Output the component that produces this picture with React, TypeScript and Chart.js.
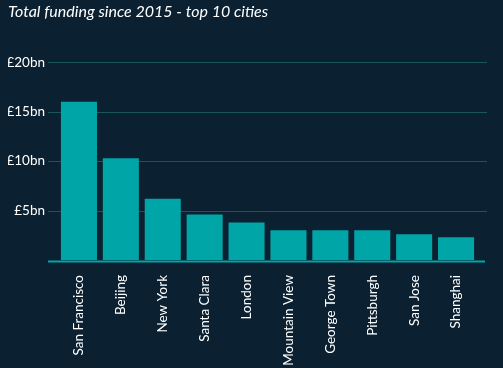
import React, { useEffect, useRef } from "react";
import { Chart, registerables } from "chart.js";

Chart.register(...registerables);

const cities: string[] = [
  "San Francisco",
  "Beijing",
  "New York",
  "Santa Clara",
  "London",
  "Mountain View",
  "George Town",
  "Pittsburgh",
  "San Jose",
  "Shanghai",
];
const funding: number[] = [16.0, 10.3, 6.2, 4.6, 3.8, 3.0, 3.0, 3.0, 2.6, 2.3];
const yTickValues: number[] = [0, 5, 10, 15, 20];
const yTickLabels: string[] = ["", "£5bn", "£10bn", "£15bn", "£20bn"];
const titleText = "Total funding since 2015 - top 10 cities";

const BG = "#0b2132";
const BAR = "#00a5a8";
const GRID = "#17575b";
const FONT = "Lato, 'DejaVu Sans', sans-serif";

const gridPlugin = {
  id: "extendedGrid",
  beforeDatasetsDraw(chart: any) {
    const { ctx, chartArea, scales } = chart;
    const y = scales.y;
    ctx.save();
    ctx.strokeStyle = GRID;
    ctx.lineWidth = 1;
    yTickValues.forEach((v) => {
      if (v === 0) return;
      const py = Math.round(y.getPixelForValue(v)) + 0.5;
      ctx.beginPath();
      ctx.moveTo(chartArea.left - 10, py);
      ctx.lineTo(chartArea.right + 10, py);
      ctx.stroke();
    });
    ctx.restore();
  },
  afterDatasetsDraw(chart: any) {
    const { ctx, chartArea, scales } = chart;
    const y = scales.y;
    const py = y.getPixelForValue(0) + 1.5;
    ctx.save();
    ctx.strokeStyle = BAR;
    ctx.lineWidth = 2;
    ctx.beginPath();
    ctx.moveTo(chartArea.left - 10, py);
    ctx.lineTo(chartArea.right + 8, py);
    ctx.stroke();
    ctx.restore();
  },
};

export default function App() {
  const ref = useRef<HTMLCanvasElement | null>(null);

  useEffect(() => {
    if (!ref.current) return;
    const chart = new Chart(ref.current, {
      type: "bar",
      data: {
        labels: cities,
        datasets: [
          {
            data: funding,
            backgroundColor: BAR,
            borderWidth: 0,
            barPercentage: 0.86,
            categoryPercentage: 1,
          },
        ],
      },
      options: {
        animation: false,
        responsive: true,
        maintainAspectRatio: false,
        layout: { padding: { left: 8, right: 26, top: 0, bottom: 0 } },
        plugins: {
          legend: { display: false },
          tooltip: { enabled: false },
          title: {
            display: true,
            text: titleText,
            align: "start",
            color: "#ffffff",
            font: { family: FONT, size: 16, style: "italic", weight: "normal" },
            padding: { top: 2, bottom: 41 },
          },
        },
        scales: {
          x: {
            grid: { display: false, drawTicks: false },
            border: { display: false },
            ticks: {
              color: "#ffffff",
              font: { family: FONT, size: 13.5 },
              minRotation: 90,
              maxRotation: 90,
              autoSkip: false,
              padding: 15,
            },
            afterFit(scale: any) {
              scale.height = 108;
            },
          },
          y: {
            min: 0,
            max: 20,
            grid: { display: false, drawTicks: false },
            border: { display: false },
            afterBuildTicks(scale: any) {
              scale.ticks = yTickValues.map((v) => ({ value: v }));
            },
            ticks: {
              color: "#ffffff",
              font: { family: FONT, size: 13.5 },
              padding: 13,
              callback: (v: any) => {
                const i = yTickValues.indexOf(Number(v));
                return i >= 0 ? yTickLabels[i] : "";
              },
            },
            afterFit(scale: any) {
              scale.width = 50;
            },
          },
        },
      },
      plugins: [gridPlugin],
    });
    return () => chart.destroy();
  }, []);

  return (
    <div
      style={{
        position: "fixed",
        left: 0,
        top: 0,
        width: 503,
        height: 368,
        background: BG,
      }}
    >
      <canvas ref={ref} style={{ width: 503, height: 368 }} />
    </div>
  );
}
